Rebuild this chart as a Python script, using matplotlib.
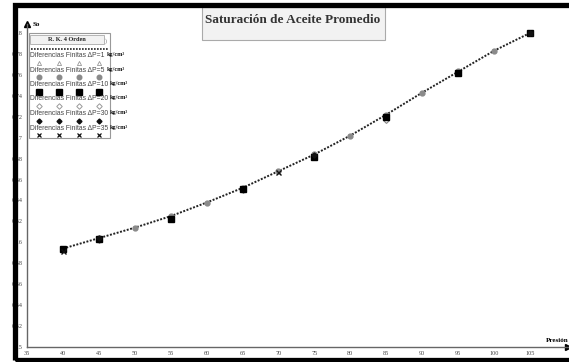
import matplotlib.pyplot as plt
import matplotlib.patches as mpatches
from matplotlib.lines import Line2D

W, H = 569, 362

# R. K. 4th order solution (pressure vs average oil saturation)
presion = [40, 45, 50, 55, 60, 65, 70, 75, 80, 85, 90, 95, 100, 105]
so_rk4 = [0.594, 0.604, 0.614, 0.625, 0.638, 0.652, 0.668, 0.684, 0.702, 0.722,
          0.743, 0.763, 0.783, 0.800]

# finite differences, each step size
p_dp1 = presion
so_dp1 = so_rk4
p_dp5 = presion
so_dp5 = [0.594, 0.604, 0.614, 0.625, 0.638, 0.652, 0.668, 0.684, 0.702, 0.722,
          0.743, 0.764, 0.783, 0.800]
p_dp10 = [40, 45, 55, 65, 75, 85, 95, 105]
so_dp10 = [0.594, 0.603, 0.622, 0.651, 0.682, 0.720, 0.762, 0.800]
p_dp20 = [45, 65, 85, 105]
so_dp20 = [0.602, 0.650, 0.717, 0.800]
p_dp30 = [45, 75, 105]
so_dp30 = [0.604, 0.683, 0.800]
p_dp35 = [40, 70, 105]
so_dp35 = [0.592, 0.667, 0.800]

xticks = list(range(35, 110, 5))
yticks = [0.5 + 0.02 * i for i in range(16)]

plt.rcParams['font.family'] = ['Liberation Serif', 'DejaVu Serif']

fig = plt.figure(figsize=(W / 100, H / 100), dpi=100)


def fx(x):
    return x / W


def fy(y):
    return 1 - y / H


ax = fig.add_axes([fx(27), fy(347), fx(568) - fx(27), fy(24) - fy(347)])
ax.set_xlim(35, 110.3)
ax.set_ylim(0.5, 0.8086)

ax.plot(presion, so_rk4, linestyle=(0, (1, 0.8)), color='#222', lw=1.4, zorder=2)
ax.plot(p_dp1, so_dp1, 'v', ms=2.5, mfc='none', mec='#999', mew=0.5, ls='none', zorder=3)
ax.plot(p_dp5, so_dp5, 'o', ms=3.5, color='#8a8a8a', ls='none', zorder=3)
ax.plot(p_dp20, so_dp20, 'D', ms=3.0, mfc='white', mec='#888', mew=0.8, ls='none', zorder=3)
ax.plot(p_dp10, so_dp10, 's', ms=3.8, color='black', ls='none', zorder=4)
ax.plot(p_dp30, so_dp30, 'D', ms=2.6, color='#111', ls='none', zorder=4)
ax.plot(p_dp35, so_dp35, 'x', ms=3.6, color='#111', mew=1.0, ls='none', zorder=5)

ax.set_xticks(xticks)
ax.set_yticks(yticks)
ax.set_xticklabels([str(t) for t in xticks])
ax.set_yticklabels(['%g' % round(t, 2) for t in yticks])
ax.tick_params(length=0, labelsize=4.5, colors='#444', pad=3)
for s in ['top', 'right']:
    ax.spines[s].set_visible(False)
for s in ['left', 'bottom']:
    ax.spines[s].set_color('#666')
    ax.spines[s].set_linewidth(1.0)

# axis arrows
ax.plot([1], [0], marker='>', ms=4, color='black', transform=ax.transAxes, clip_on=False)
ax.plot([0], [1], marker='^', ms=4, color='black', transform=ax.transAxes, clip_on=False)
fig.text(fx(33), fy(25), 'So', fontsize=5, fontweight='bold', va='center')
fig.text(fx(546), fy(340), 'Presión', fontsize=5, fontweight='bold', va='center')

# title box
fig.patches.append(mpatches.Rectangle((fx(202), fy(40)), fx(385) - fx(202), fy(7) - fy(40),
                                      transform=fig.transFigure, fc='#f2f2f2', ec='#aaa', lw=0.8))
fig.text(fx(293), fy(20), 'Saturación de Aceite Promedio', fontsize=9.5,
         fontweight='bold', ha='center', va='center', color='#333')

# legend
fig.patches.append(mpatches.Rectangle((fx(29), fy(138)), fx(110) - fx(29), fy(33) - fy(138),
                                      transform=fig.transFigure, fc='white', ec='#999', lw=0.8))
fig.patches.append(mpatches.Rectangle((fx(30), fy(44)), fx(104) - fx(30), fy(35) - fy(44),
                                      transform=fig.transFigure, fc='#f2f2f2', ec='#aaa', lw=0.6))
fig.text(fx(67), fy(39.5), 'R. K. 4 Orden', fontsize=4.5, fontweight='bold',
         ha='center', va='center', color='#222')
fig.text(fx(106), fy(41), ')', fontsize=4, ha='center', va='center', color='#666')
fig.lines.append(Line2D([fx(31), fx(108)], [fy(49), fy(49)], transform=fig.transFigure,
                        linestyle=(0, (1, 0.8)), color='#222', lw=1.2))

rows = [('1', dict(marker='^', ms=3, mfc='none', mec='#999', mew=0.6)),
        ('5', dict(marker='o', ms=3.3, color='#8a8a8a')),
        ('10', dict(marker='s', ms=3.8, color='black')),
        ('20', dict(marker='D', ms=2.8, mfc='white', mec='#999', mew=0.7)),
        ('30', dict(marker='D', ms=2.5, color='#111')),
        ('35', dict(marker='x', ms=3.3, color='#111', mew=0.9))]
fig.canvas.draw()
renderer = fig.canvas.get_renderer()
for i, (dp, style) in enumerate(rows):
    yt = 55.5 + i * 14.5
    t = fig.text(fx(30.5), fy(yt), 'Diferencias Finitas \u0394P=' + dp,
                 family=['Liberation Sans', 'DejaVu Sans'],
                 fontsize=4.9, color='#444', va='center')
    x_end = t.get_window_extent(renderer).x1
    fig.text((x_end + 1.5) / W, fy(yt - 1), 'kg/cm\u00b2', fontsize=4.4, fontweight='bold',
             va='center', color='#111')
    for xm in [39, 59, 79, 99]:
        fig.lines.append(Line2D([fx(xm)], [fy(yt + 7)], transform=fig.transFigure,
                                ls='none', **style))

# heavy black frame
fig.patches.append(mpatches.Rectangle((fx(14.5), fy(360)), fx(620) - fx(14.5), fy(4.5) - fy(360),
                                      transform=fig.transFigure, fc='none', ec='black', lw=3.8))

fig.savefig('out.png', dpi=100)
